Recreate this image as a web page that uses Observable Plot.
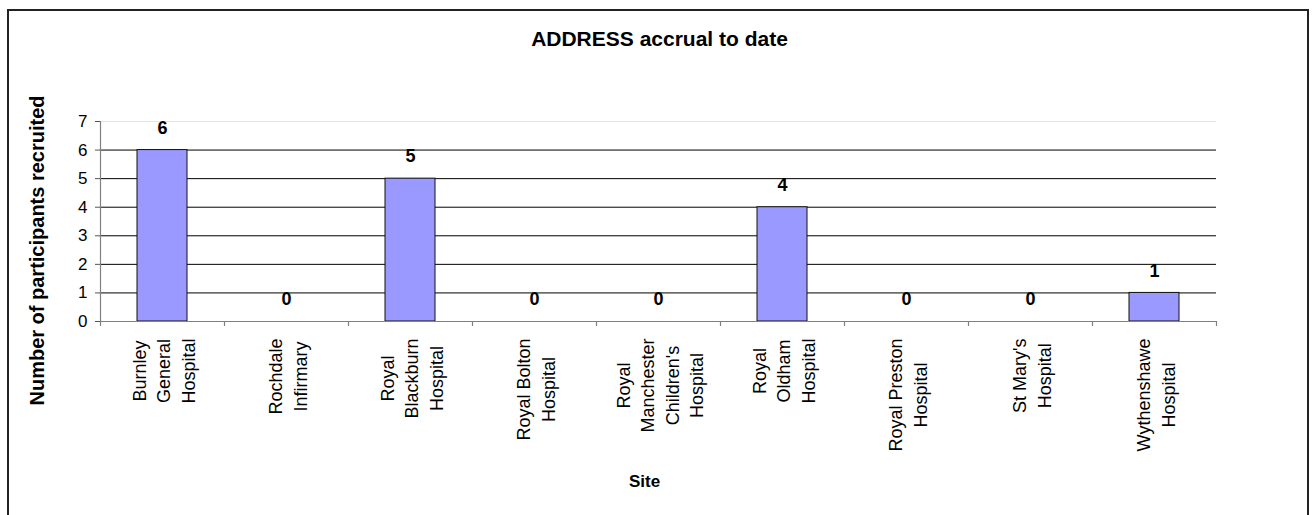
<!DOCTYPE html>
<html>
<head>
<meta charset="utf-8">
<script src="https://cdn.jsdelivr.net/npm/d3@7"></script>
<script src="https://cdn.jsdelivr.net/npm/@observablehq/plot@0.6"></script>
<style>
  html, body { margin: 0; padding: 0; background: #fff; }
  #wrap { position: relative; width: 1314px; height: 515px; overflow: hidden; }
  #border { position: absolute; left: 7px; top: 9px; width: 1302px; height: 600px;
            border: 2px solid #222; pointer-events: none; box-sizing: border-box; }
</style>
</head>
<body>
<div id="wrap"><div id="border"></div></div>
<script>
// ---- data ----
const categories = [
  "Burnley General Hospital",
  "Rochdale Infirmary",
  "Royal Blackburn Hospital",
  "Royal Bolton Hospital",
  "Royal Manchester Children's Hospital",
  "Royal Oldham Hospital",
  "Royal Preston Hospital",
  "St Mary's Hospital",
  "Wythenshawe Hospital"
];
const tickLabels = [
  ["Burnley", "General", "Hospital"],
  ["Rochdale", "Infirmary"],
  ["Royal", "Blackburn", "Hospital"],
  ["Royal Bolton", "Hospital"],
  ["Royal", "Manchester", "Children's", "Hospital"],
  ["Royal", "Oldham", "Hospital"],
  ["Royal Preston", "Hospital"],
  ["St Mary's", "Hospital"],
  ["Wythenshawe", "Hospital"]
];
const values = [6, 0, 5, 0, 0, 4, 0, 0, 1];
const yTicks = [0, 1, 2, 3, 4, 5, 6, 7];
const gridValues = [1, 2, 3, 4, 5, 6];
const topGrid = [7];
const title = "ADDRESS accrual to date";
const yTitle = "Number of participants recruited";
const xTitle = "Site";

// ---- layout ----
const W = 1314, H = 515;
const mL = 100, mR = 98, mT = 121, mB = 194;
const step = (W - mL - mR) / categories.length;
const FONT = "'Liberation Sans', Arial, Helvetica, sans-serif";
const labelSize = 18;
const labelLH = 1.36;

const rows = categories.map((c, i) => ({site: c, value: values[i]}));

const ctx = document.createElement("canvas").getContext("2d");
ctx.font = `${labelSize}px ${FONT}`;

const labelMarks = categories.map((c, i) => {
  const lines = tickLabels[i];
  const maxW = Math.max(...lines.map(l => ctx.measureText(l).width));
  return Plot.text([c], {
    x: d => d, y: 0,
    text: () => lines.join("\n"),
    rotate: -90,
    textAnchor: "middle",
    lineAnchor: "middle",
    lineHeight: labelLH,
    fontSize: labelSize,
    dy: 17 + maxW / 2,
    fill: "black"
  });
});

const chart = Plot.plot({
  width: W,
  height: H,
  marginLeft: mL,
  marginRight: mR,
  marginTop: mT,
  marginBottom: mB,
  style: {fontFamily: FONT, fontSize: "17px", color: "black", background: "white", overflow: "visible"},
  x: {domain: categories, paddingInner: 0.6, paddingOuter: 0.3, axis: null},
  y: {domain: [0, 7], axis: null},
  marks: [
    Plot.ruleY(topGrid, {stroke: "#e4e4e4"}),
    Plot.ruleY(gridValues, {stroke: "black", strokeWidth: 1}),
    Plot.barY(rows.filter(d => d.value > 0), {x: "site", y: "value", fill: "#9999ff", stroke: "#111", strokeWidth: 1}),
    Plot.ruleY([0], {stroke: "#808080", strokeWidth: 1.2}),
    Plot.ruleX([categories[0]], {x: d => d, dx: -step / 2, stroke: "#808080", strokeWidth: 1.2}),
    Plot.ruleX(categories, {x: d => d, dx: -step / 2, y1: 0, y2: 0, insetBottom: -5, stroke: "#808080", strokeWidth: 1.2}),
    Plot.ruleX([categories[categories.length - 1]], {x: d => d, dx: step / 2, y1: 0, y2: 0, insetBottom: -5, stroke: "#808080", strokeWidth: 1.2}),
    Plot.axisY({ticks: yTicks, tickSize: 5, tickPadding: 8, stroke: "#555", fill: "black", fontSize: 17, label: null, tickFormat: d => String(d)}),
    Plot.text(rows, {x: "site", y: "value", text: d => String(d.value), dy: -22, lineAnchor: "middle", fontWeight: "bold", fontSize: 18, fill: "black"}),
    ...labelMarks,
    Plot.text([title], {frameAnchor: "top", text: d => d, dx: 1, dy: -82, lineAnchor: "middle", fontWeight: "bold", fontSize: 21, fill: "black"}),
    Plot.text([yTitle], {frameAnchor: "left", text: d => d, rotate: -90, dx: -63, dy: 29, textAnchor: "middle", lineAnchor: "middle", fontWeight: "bold", fontSize: 20, fill: "black"}),
    Plot.text([xTitle], {frameAnchor: "bottom", text: d => d, dx: -14, dy: 160, lineAnchor: "middle", fontWeight: "bold", fontSize: 17, fill: "black"})
  ]
});
document.getElementById("wrap").prepend(chart);
</script>
</body>
</html>
